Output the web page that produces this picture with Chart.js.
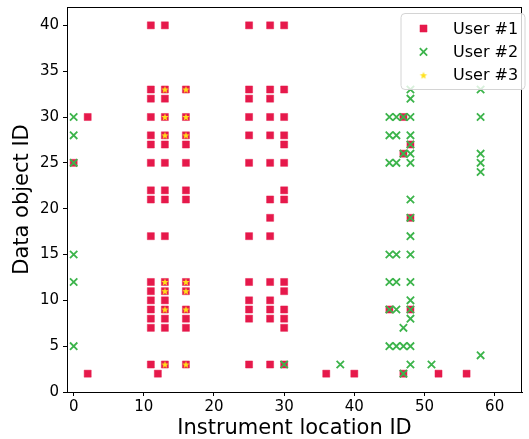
<!DOCTYPE html>
<html>
<head>
<meta charset="utf-8">
<script src="https://cdn.jsdelivr.net/npm/chart.js@4.4.0/dist/chart.umd.min.js"></script>
<style>
  html, body { margin: 0; padding: 0; background: #fff; }
</style>
</head>
<body>
<canvas id="chart" width="529" height="439"></canvas>
<script>
// [instrument location ID, data object ID]
const user1Points = [
  [0, 25], [2, 30], [2, 2], [12, 2],
  [11, 40], [11, 33], [11, 32], [11, 30], [11, 28], [11, 27], [11, 25], [11, 22], [11, 21],
  [11, 17], [11, 12], [11, 11], [11, 10], [11, 9], [11, 8], [11, 7], [11, 3],
  [13, 40], [13, 33], [13, 32], [13, 30], [13, 28], [13, 27], [13, 25], [13, 22], [13, 21],
  [13, 17], [13, 12], [13, 11], [13, 10], [13, 9], [13, 8], [13, 7], [13, 3],
  [16, 33], [16, 30], [16, 28], [16, 27], [16, 25], [16, 22], [16, 21],
  [16, 12], [16, 11], [16, 9], [16, 8], [16, 7], [16, 3],
  [25, 40], [25, 33], [25, 32], [25, 30], [25, 28], [25, 25],
  [25, 17], [25, 12], [25, 10], [25, 9], [25, 8], [25, 3],
  [28, 40], [28, 33], [28, 32], [28, 30], [28, 28], [28, 25], [28, 21], [28, 19],
  [28, 17], [28, 12], [28, 10], [28, 9], [28, 8], [28, 3],
  [30, 40], [30, 33], [30, 30], [30, 28], [30, 27], [30, 25], [30, 22], [30, 21],
  [30, 12], [30, 11], [30, 9], [30, 8], [30, 7], [30, 3],
  [47, 30], [48, 27], [47, 26], [48, 19], [45, 9], [48, 9],
  [36, 2], [40, 2], [47, 2], [52, 2], [56, 2]
];

const user2Points = [
  [0, 30], [0, 28], [0, 25], [0, 15], [0, 12], [0, 5],
  [30, 3], [38, 3],
  [48, 33], [58, 33], [48, 32],
  [45, 30], [46, 30], [47, 30], [48, 30], [58, 30],
  [45, 28], [46, 28], [48, 28], [48, 27],
  [47, 26], [48, 26], [58, 26],
  [45, 25], [46, 25], [48, 25], [58, 25], [58, 24],
  [48, 21], [48, 19], [48, 17],
  [45, 15], [46, 15], [48, 15],
  [45, 12], [46, 12], [48, 12],
  [48, 10], [45, 9], [46, 9], [48, 9], [48, 8], [47, 7],
  [45, 5], [46, 5], [47, 5], [48, 5],
  [58, 4], [48, 3], [51, 3], [47, 2]
];

const user3Points = [
  [13, 33], [13, 30], [13, 28], [13, 12], [13, 11], [13, 9], [13, 3],
  [16, 33], [16, 30], [16, 28], [16, 12], [16, 11], [16, 9], [16, 3]
];

const seriesNames = ['User #1', 'User #2', 'User #3'];
const xTickValues = [0, 10, 20, 30, 40, 50, 60];
const yTickValues = [0, 5, 10, 15, 20, 25, 30, 35, 40];

const FONT = "'DejaVu Sans', sans-serif";
const RED = '#e6194b';
const GREEN = '#3cb44b';
const YELLOW = '#ffe119';

const toXY = pts => pts.map(([x, y]) => ({ x, y }));

// filled five point star, used as point image
function makeStar(size, color) {
  const c = document.createElement('canvas');
  c.width = size;
  c.height = size;
  const g = c.getContext('2d');
  const cx = size / 2, cy = size / 2 + 0.3, R = 3.9, r = R * 0.42;
  g.beginPath();
  for (let i = 0; i < 10; i++) {
    const a = -Math.PI / 2 + i * Math.PI / 5;
    const rad = i % 2 ? r : R;
    g.lineTo(cx + rad * Math.cos(a), cy + rad * Math.sin(a));
  }
  g.closePath();
  g.fillStyle = color;
  g.fill();
  return c;
}
const starImg = makeStar(10, YELLOW);

// no extra room for tick labels, keep the plot box fixed
const noPad = s => {
  s.paddingTop = 0;
  s.paddingBottom = 0;
  s.paddingLeft = 0;
  s.paddingRight = 0;
};

// matplotlib style box: top/right spines + legend
const extras = {
  id: 'extras',
  afterDraw(chart) {
    const { ctx, chartArea: a } = chart;
    ctx.save();
    ctx.strokeStyle = '#000';
    ctx.lineWidth = 1;
    ctx.beginPath();
    ctx.moveTo(a.left, a.top + 0.5);
    ctx.lineTo(a.right, a.top + 0.5);
    ctx.moveTo(a.right - 0.5, a.top);
    ctx.lineTo(a.right - 0.5, a.bottom);
    ctx.stroke();

    // legend
    ctx.beginPath();
    ctx.roundRect(401, 13.5, 124, 76, 4);
    ctx.fillStyle = 'rgba(255,255,255,0.8)';
    ctx.fill();
    ctx.strokeStyle = '#d4d4d4';
    ctx.stroke();

    chart.data.datasets.forEach((ds, i) => {
      const ry = 28.5 + i * 23.4;
      ctx.fillStyle = ds.backgroundColor;
      ctx.strokeStyle = ds.borderColor;
      ctx.lineWidth = ds.borderWidth;
      Chart.helpers.drawPoint(ctx, {
        pointStyle: ds.pointStyle,
        radius: ds.pointRadius,
        borderWidth: ds.borderWidth,
        rotation: 0
      }, 423.5, ry);
      ctx.fillStyle = '#000';
      ctx.font = '16px ' + FONT;
      ctx.textBaseline = 'middle';
      ctx.textAlign = 'left';
      ctx.fillText(ds.label, 453, ry + 1);
    });
    ctx.restore();
  }
};

new Chart(document.getElementById('chart'), {
  type: 'scatter',
  data: {
    datasets: [
      {
        label: seriesNames[0],
        data: toXY(user1Points),
        pointStyle: 'rect',
        pointRadius: 5,
        backgroundColor: RED,
        borderColor: 'rgba(230,25,75,0.45)',
        borderWidth: 1,
        order: 3
      },
      {
        label: seriesNames[1],
        data: toXY(user2Points),
        pointStyle: 'crossRot',
        pointRadius: 5.2,
        backgroundColor: GREEN,
        borderColor: GREEN,
        borderWidth: 1.8,
        order: 2
      },
      {
        label: seriesNames[2],
        data: toXY(user3Points),
        pointStyle: starImg,
        pointRadius: 4,
        backgroundColor: YELLOW,
        borderColor: YELLOW,
        borderWidth: 0,
        order: 1
      }
    ]
  },
  options: {
    responsive: false,
    animation: false,
    events: [],
    layout: { padding: { top: 5, right: 0, left: 0, bottom: 0 } },
    plugins: {
      legend: { display: false },
      tooltip: { enabled: false }
    },
    scales: {
      x: {
        type: 'linear',
        min: -0.95,
        max: 63.9,
        afterFit: s => { s.height = 47; noPad(s); },
        afterBuildTicks: s => { s.ticks = xTickValues.map(v => ({ value: v })); },
        ticks: { color: '#000', font: { family: FONT, size: 15 }, padding: 2, maxRotation: 0 },
        grid: { drawOnChartArea: false, drawTicks: true, tickLength: 4, color: '#000' },
        border: { display: true, color: '#000', width: 1 },
        title: {
          display: true,
          text: 'Instrument location ID',
          color: '#000',
          font: { family: FONT, size: 21, lineHeight: 1 },
          padding: { top: 0, bottom: 0 }
        }
      },
      y: {
        type: 'linear',
        min: 0,
        max: 42,
        afterFit: s => { s.width = 67; noPad(s); },
        afterBuildTicks: s => { s.ticks = yTickValues.map(v => ({ value: v })); },
        ticks: { color: '#000', font: { family: FONT, size: 15 }, padding: 4 },
        grid: { drawOnChartArea: false, drawTicks: true, tickLength: 4, color: '#000' },
        border: { display: true, color: '#000', width: 1 },
        title: {
          display: true,
          text: 'Data object ID',
          color: '#000',
          font: { family: FONT, size: 21, lineHeight: 1 },
          padding: { top: 12, bottom: 0 }
        }
      }
    }
  },
  plugins: [extras]
});
</script>
</body>
</html>
